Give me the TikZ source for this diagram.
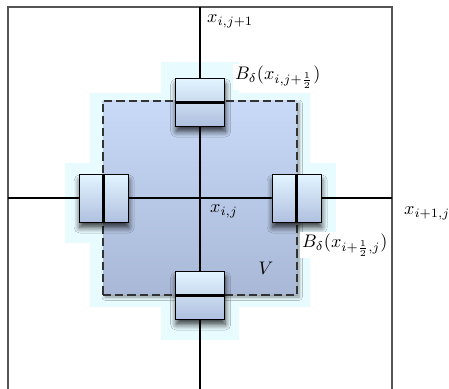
\documentclass[tikz,border=0pt]{standalone}
\usepackage{amsmath}
\usetikzlibrary{positioning,shadows.blur}
\definecolor{cellhalo}{HTML}{E8FBFF}
\definecolor{celltop}{HTML}{C8DAF8}
\definecolor{cellbottom}{HTML}{A8B8D6}
\definecolor{boxtop}{HTML}{E2F4FF}
\definecolor{boxbottom}{HTML}{B0C0E0}
\definecolor{framegray}{HTML}{555555}
\tikzset{
  frameline/.style={framegray, line width=0.8pt},
  gridline/.style={black, line width=0.7pt},
  halo/.style={fill=cellhalo, draw=none},
  cellregion/.style={draw=black!80, dash pattern=on 4.5pt off 2.2pt, line width=0.6pt, top color=celltop, bottom color=cellbottom, minimum size=106.7pt, inner sep=0pt, blur shadow={shadow xshift=1.2pt, shadow yshift=-1.2pt, shadow blur steps=6, shadow opacity=40}},
  ballbox/.style={draw=black, line width=0.5pt, top color=boxtop, bottom color=boxbottom, minimum width=27pt, minimum height=26pt, inner sep=0pt, blur shadow={shadow xshift=0.4pt, shadow yshift=-3pt, shadow blur steps=8, shadow blur radius=3pt, shadow opacity=75}},
  facebar/.style={black, line width=1.9pt},
  lbl/.style={anchor=west, inner sep=1pt, fill=white}
}
\begin{document}
\begin{tikzpicture}[x=0.55pt, y=-0.55pt]
  \useasboundingbox (0,0) rectangle (449,389);
  % outer cell frame
  \coordinate (NW) at (8,7);
  \coordinate (NE) at (392,7);
  \coordinate (SW) at (8,389);
  \coordinate (SE) at (392,389);
  \draw[frameline] (SW) -- (NW) -- (NE) -- (SE);
  % glow behind the control volume
  \fill[halo] (90,93) rectangle (310,307);
  \fill[halo] (161,62) rectangle (239,142);
  \fill[halo] (65,163) rectangle (142,243);
  \fill[halo] (258,163) rectangle (336,243);
  \fill[halo] (161,258) rectangle (239,340);
  % control volume
  \coordinate (C) at (200,198);
  \node[cellregion] (V) at (C) {};
  % grid lines through x_{i,j}
  \coordinate (N) at (200,7);
  \coordinate (S) at (200,389);
  \coordinate (W) at (8,198);
  \coordinate (E) at (392,198);
  \draw[gridline] (N) -- (S);
  \draw[gridline] (W) -- (E);
  % balls on the faces
  \node[ballbox] (Bn) at (200,102.5) {};
  \node[ballbox] (Bs) at (200,295.5) {};
  \node[ballbox] (Bw) at (103.5,198.5) {};
  \node[ballbox] (Be) at (296.5,198.5) {};
  \draw[facebar] (Bn.west) -- (Bn.east);
  \draw[facebar] (Bs.west) -- (Bs.east);
  \draw[facebar] (Bw.north) -- (Bw.south);
  \draw[facebar] (Be.north) -- (Be.south);
  % labels
  \node[lbl] (xN) at (205,21) {$x_{i,j+1}$};
  \node[lbl] (lblBn) at (233,77) {$B_\delta(x_{i,j+\frac{1}{2}})$};
  \node[lbl, fill=none] (xC) at (208,211) {$x_{i,j}$};
  \node[lbl] (xE) at (402,213) {$x_{i+1,j}$};
  \node[lbl] (lblBe) at (300,245) {$B_\delta(x_{i+\frac{1}{2},j})$};
  \node[inner sep=0pt] (lblV) at (266,268) {$V$};
\end{tikzpicture}
\end{document}
